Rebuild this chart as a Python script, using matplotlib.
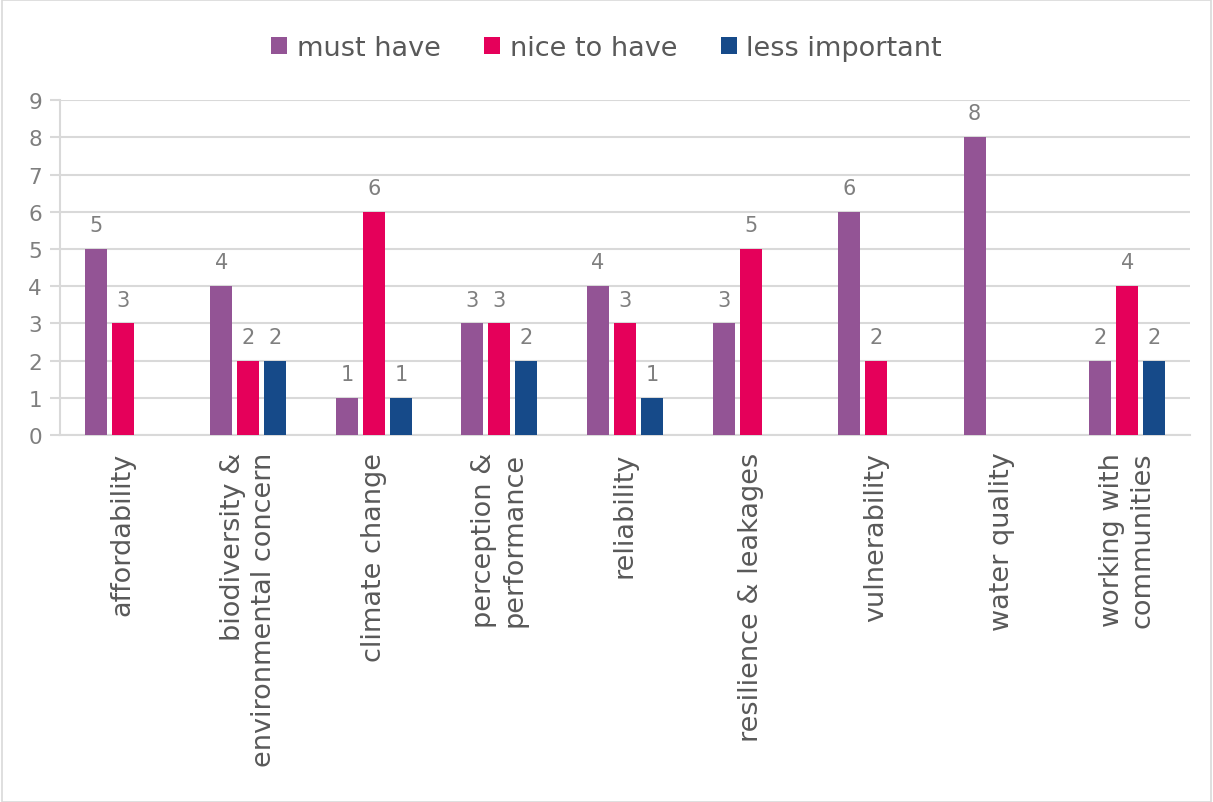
import matplotlib
matplotlib.use("Agg")
import matplotlib.pyplot as plt
import numpy as np

categories = ["affordability", "biodiversity &\nenvironmental concern", "climate change",
              "perception &\nperformance", "reliability", "resilience & leakages",
              "vulnerability", "water quality", "working with\ncommunities"]
series_names = ["must have", "nice to have", "less important"]
must_have = [5, 4, 1, 3, 4, 3, 6, 8, 2]
nice_to_have = [3, 2, 6, 3, 3, 5, 2, 0, 4]
less_important = [0, 2, 1, 2, 1, 0, 0, 0, 2]
colors = ["#935495", "#E5005A", "#164A89"]
yticks = list(range(0, 10))

plt.rcParams['font.family'] = ['DejaVu Sans']

fig = plt.figure(figsize=(12.13, 8.03), dpi=100)
ax = fig.add_axes([0.0495, 0.457, 0.9315, 0.417])

x = np.arange(len(categories))
bw = 0.175
step = 0.215
text_col = "#595959"
for i, (vals, name, c) in enumerate(zip([must_have, nice_to_have, less_important], series_names, colors)):
    xs = x + (i - 1) * step
    v = np.array(vals, dtype=float)
    mask = v > 0
    ax.bar(xs[mask], v[mask], width=bw, color=c, label=name, zorder=3)
    for xi, vi in zip(xs[mask], v[mask]):
        ax.annotate(f"{int(vi)}", (xi, vi), xytext=(0, 10), textcoords="offset points",
                    ha="center", va="bottom", fontsize=15, color="#7f7f7f")

ax.set_xlim(-0.5, len(categories) - 0.5)
ax.set_ylim(0, 9)
ax.set_yticks(yticks)
ax.set_yticklabels([str(t) for t in yticks], fontsize=15.5, color="#7f7f7f")
ax.grid(axis="y", color="#d9d9d9", linewidth=1.5, zorder=0)
ax.set_axisbelow(True)
for s in ["top", "right"]:
    ax.spines[s].set_visible(False)
ax.spines["left"].set_color("#d9d9d9")
ax.spines["left"].set_linewidth(1.5)
ax.spines["bottom"].set_color("#d9d9d9")
ax.spines["bottom"].set_linewidth(1.5)
ax.tick_params(axis="y", length=7, color="#d9d9d9", width=1.5, pad=6)
ax.tick_params(axis="x", length=0, pad=12)
ax.set_xticks(x)
ax.set_xticklabels(categories, rotation=90, ha="center", va="top", fontsize=19.5,
                   color=text_col, multialignment="right", linespacing=1.25)

leg = fig.legend(loc="upper center", bbox_to_anchor=(0.5, 0.985), ncol=3, frameon=False,
                 fontsize=19.5, handlelength=0.6, handleheight=0.6, handletextpad=0.35,
                 columnspacing=1.6, labelcolor=text_col)

fig.patches.append(plt.Rectangle((0.002, 0.0), 0.996, 0.999, transform=fig.transFigure,
                                 fill=False, edgecolor="#d9d9d9", linewidth=1.2))
fig.savefig("out.png", dpi=100)
